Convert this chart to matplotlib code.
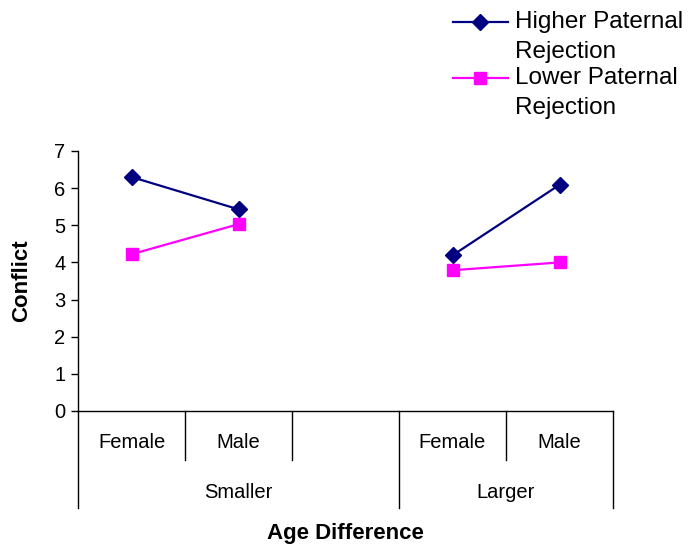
import matplotlib
matplotlib.use("Agg")
import matplotlib.pyplot as plt
import matplotlib.transforms as mtransforms
import numpy as np
from matplotlib.lines import Line2D

plt.rcParams["font.family"] = ["Liberation Sans", "DejaVu Sans"]

# Inner categories (the third slot under "Smaller" is empty)
categories = ["Female", "Male", "", "Female", "Male"]
groups = ["Smaller", "Larger"]
group_spans = [(0, 3), (3, 5)]  # category index ranges for each group
higher = [6.30, 5.43, np.nan, 4.19, 6.09]
lower = [4.22, 5.03, np.nan, 3.79, 4.00]
series_names = [["Higher Paternal", "Rejection"], ["Lower Paternal", "Rejection"]]
yticks = [0, 1, 2, 3, 4, 5, 6, 7]

W, H = 691, 545
fig = plt.figure(figsize=(W / 100, H / 100), dpi=100)
ax = fig.add_axes([78 / W, 1 - 411 / H, (613 - 78) / W, (411 - 151) / H])

x = np.arange(len(categories))
navy = "#000080"
pink = "#ff00ff"
ax.plot(x[:2], higher[:2], color=navy, lw=1.6, marker="D", ms=8.5, clip_on=False)
ax.plot(x[3:], higher[3:], color=navy, lw=1.6, marker="D", ms=8.5, clip_on=False)
ax.plot(x[:2], lower[:2], color=pink, lw=1.6, marker="s", ms=8.5, clip_on=False)
ax.plot(x[3:], lower[3:], color=pink, lw=1.6, marker="s", ms=8.5, clip_on=False)

ax.set_xlim(-0.5, len(categories) - 0.5)
ax.set_ylim(0, 7)
ax.set_yticks(yticks)
ax.tick_params(axis="y", direction="out", length=5, width=1, labelsize=14.5, pad=4)
ax.set_xticks([])
for side in ("top", "right"):
    ax.spines[side].set_visible(False)
ax.spines["left"].set_linewidth(1)
ax.spines["bottom"].set_linewidth(1)

# Two-level category axis drawn below the plot
trans = mtransforms.blended_transform_factory(ax.transData, ax.transAxes)
axh = 411 - 151
inner_depth = -49 / axh
outer_depth = -97 / axh
edges = [s for s, _ in group_spans] + [group_spans[-1][1]]
for i in range(len(categories) + 1):
    depth = outer_depth if i in edges else inner_depth
    ax.plot([i - 0.5, i - 0.5], [0, depth], color="black", lw=1,
            transform=trans, clip_on=False)
for i, lab in enumerate(categories):
    ax.text(i, -32 / axh, lab, transform=trans, ha="center", va="center",
            fontsize=14.5)
for (a, b), lab in zip(group_spans, groups):
    ax.text((a + b - 1) / 2, -81 / axh, lab, transform=trans, ha="center",
            va="center", fontsize=14.5)

fig.text(345 / W, 1 - 533 / H, "Age Difference", ha="center", va="center",
         fontsize=16, fontweight="bold")
fig.text(22 / W, 1 - 281 / H, "Conflict", ha="center", va="center",
         rotation=90, fontsize=16, fontweight="bold")

# Legend keys with the marker sitting on the first text line
for yk, col, mk, lines in [(22, navy, "D", series_names[0]),
                           (78, pink, "s", series_names[1])]:
    yf = 1 - yk / H
    fig.add_artist(Line2D([453 / W, 480 / W, 508 / W], [yf, yf, yf],
                          color=col, lw=1.6, marker=mk, ms=8.5, markevery=[1],
                          transform=fig.transFigure))
    for j, line in enumerate(lines):
        fig.text(515 / W, 1 - (yk + 30 * j) / H, line, ha="left",
                 va="center", fontsize=17.5)

fig.savefig("out.png", dpi=100)
